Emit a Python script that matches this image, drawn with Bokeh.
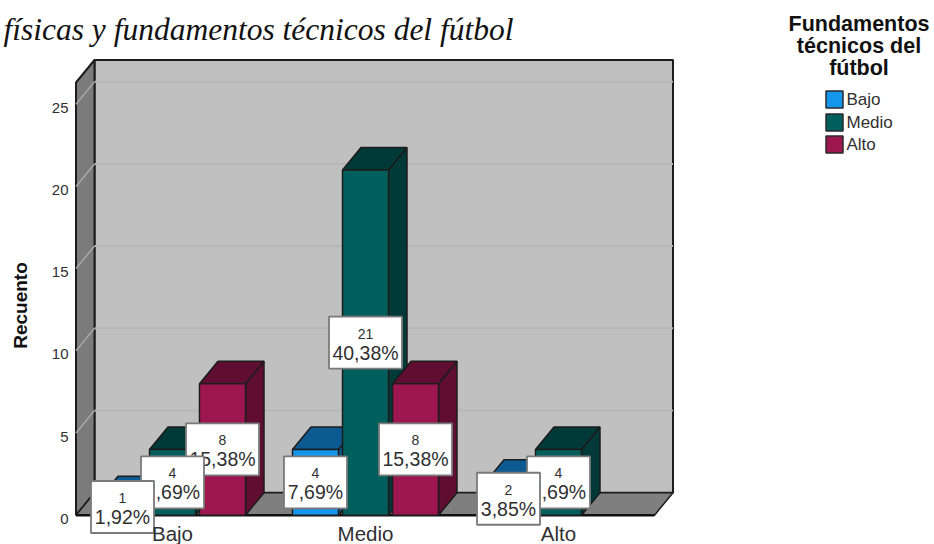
from bokeh.plotting import figure
from bokeh.embed import file_html
from bokeh.resources import INLINE
from bokeh.models import FixedTicker
from bokeh.core.properties import value
import math

title_text = "físicas y fundamentos técnicos del fútbol"
y_title = "Recuento"
legend_title = ["Fundamentos", "técnicos del", "fútbol"]
categories = ["Bajo", "Medio", "Alto"]
series = ["Bajo", "Medio", "Alto"]
counts = {"Bajo": [1, 4, 2], "Medio": [4, 21, 4], "Alto": [8, 8, 0]}
percents = {"Bajo": ["1,92%", "7,69%", "3,85%"],
            "Medio": ["7,69%", "40,38%", "7,69%"],
            "Alto": ["15,38%", "15,38%", ""]}
y_ticks = [0, 5, 10, 15, 20, 25]

front_col = {"Bajo": "#1496EA", "Medio": "#005F5C", "Alto": "#9E1650"}
dark_col = {"Bajo": "#0C5A92", "Medio": "#003A38", "Alto": "#5F0D31"}

# scale of the plot: pixels per category and per count
W, H = 934, 544
PX_CAT, PX_VAL = 193.0, 16.44
X0, Y0 = 365.0, 514.7          # pixel of category 1 and of count 0
x_of = lambda px: 1 + (px - X0) / PX_CAT
y_of = lambda py: (Y0 - py) / PX_VAL

p = figure(width=W, height=H, output_backend="svg", toolbar_location=None,
           x_range=(x_of(0), x_of(W)), y_range=(y_of(H), y_of(0)),
           min_border=0, min_border_left=0, min_border_right=0,
           min_border_top=0, min_border_bottom=0,
           background_fill_color="white", border_fill_color="white",
           outline_line_color=None)
p.grid.visible = False

DX, DY = 18.5 / PX_CAT, 22.5 / PX_VAL     # depth of the 3-D box
BW, PITCH = 46.0 / PX_CAT, 50.0 / PX_CAT  # bar width and spacing
XL, XR = x_of(75.5), x_of(654)
YT = y_of(82)
EDGE = "#1c1c1c"

# walls
p.patch([XL + DX, XR + DX, XR + DX, XL + DX], [DY, DY, YT + DY, YT + DY],
        fill_color="#C0C0C0", line_color=EDGE, line_width=2)
p.patch([XL, XL + DX, XL + DX, XL], [0, DY, YT + DY, YT],
        fill_color="#7B7B7B", line_color=EDGE, line_width=2)
p.patch([XL, XR, XR + DX, XL + DX], [0, 0, DY, DY],
        fill_color="#7F7F7F", line_color=EDGE, line_width=1.5)
p.line([XL, XR], [0, 0], line_color="#111111", line_width=2.5)

# gridlines
gt = [t for t in y_ticks if t > 0]
p.multi_line([[XL + DX, XR + DX] for t in gt], [[t + DY, t + DY] for t in gt],
             line_color="#B6B6B6", line_width=2)
p.multi_line([[XL, XL + DX] for t in gt], [[t, t + DY] for t in gt],
             line_color="#A8A8A8", line_width=1.5)

# bars
for ci, cat in enumerate(categories):
    for si, s in enumerate(series):
        v = counts[s][ci]
        if v == 0:
            continue
        x1 = ci + (si - 1) * PITCH - BW / 2
        x2 = x1 + BW
        p.patch([x2, x2 + DX, x2 + DX, x2], [0, DY, v + DY, v],
                fill_color=dark_col[s], line_color=EDGE, line_width=1.5)
        p.patch([x1, x2, x2 + DX, x1 + DX], [v, v, v + DY, v + DY],
                fill_color=dark_col[s], line_color=EDGE, line_width=1.5)
        p.quad(left=x1, right=x2, bottom=0, top=v,
               fill_color=front_col[s], line_color=EDGE, line_width=1.5)

# value boxes: last series first, so that earlier ones lie on top
for ci, cat in enumerate(categories):
    for si in (2, 1, 0):
        s = series[si]
        v = counts[s][ci]
        if v == 0:
            continue
        pct = percents[s][ci]
        xc = ci + (si - 1) * PITCH
        bw = 73 if len(pct) > 5 else 63
        p.rect(x=[xc], y=[v / 2], width=bw, height=52,
               width_units="screen", height_units="screen",
               fill_color="white", line_color="#7A7A7A", line_width=1.8)
        p.text(x=[xc], y=[v / 2], text=[str(v)], y_offset=-9,
               text_align="center", text_baseline="middle",
               text_font=value("Liberation Sans"), text_font_size="14px",
               text_color="#303030")
        p.text(x=[xc], y=[v / 2], text=[pct], y_offset=10,
               text_align="center", text_baseline="middle",
               text_font=value("Liberation Sans"), text_font_size="19.5px",
               text_color="#303030")

# axes
ax = p.xaxis[0]
ax.fixed_location = 0
ax.ticker = FixedTicker(ticks=[0, 1, 2])
ax.major_label_overrides = {i: c for i, c in enumerate(categories)}
ax.axis_line_color = None
ax.major_tick_line_color = None
ax.minor_tick_line_color = None
ax.major_label_standoff = 1
ax.major_label_text_font = "Liberation Sans"
ax.major_label_text_font_size = "20.5px"
ax.major_label_text_color = "#303030"

ay = p.yaxis[0]
ay.visible = False
# tick labels sit a little below the tick in the reference
p.text(x=[XL] * len(y_ticks), y=y_ticks, text=[str(t) for t in y_ticks],
       x_offset=-7.5, y_offset=3.5, text_align="right", text_baseline="middle",
       text_font=value("Liberation Sans"), text_font_size="15px",
       text_color="#303030")

p.text(x=[x_of(20)], y=[y_of(305)], text=[y_title], angle=math.pi / 2,
       text_align="center", text_baseline="middle",
       text_font=value("Liberation Sans"), text_font_style="bold",
       text_font_size="19px", text_color="#111111")

# title, cut by the left edge of the picture
p.text(x=[x_of(513)], y=[y_of(29)], text=[title_text], text_align="right",
       text_baseline="alphabetic", text_font=value("Liberation Serif"),
       text_font_style="italic", text_font_size="31.5px", text_color="#111111")

# legend
for line, py in zip(legend_title, (23, 45, 67)):
    p.text(x=[x_of(858.5)], y=[y_of(py)], text=[line], text_align="center",
           text_baseline="middle", text_font=value("Liberation Sans"),
           text_font_style="bold", text_font_size="21.5px", text_color="#111111")
for s, py in zip(series, (99, 122, 144)):
    p.rect(x=[x_of(834)], y=[y_of(py)], width=17, height=17,
           width_units="screen", height_units="screen",
           fill_color=front_col[s], line_color="#2a2a2a", line_width=1.5)
    p.text(x=[x_of(846)], y=[y_of(py)], text=[s], text_align="left",
           text_baseline="middle", text_font=value("Liberation Sans"),
           text_font_size="17px", text_color="#303030")

open("out.html", "w").write(file_html(p, INLINE))
